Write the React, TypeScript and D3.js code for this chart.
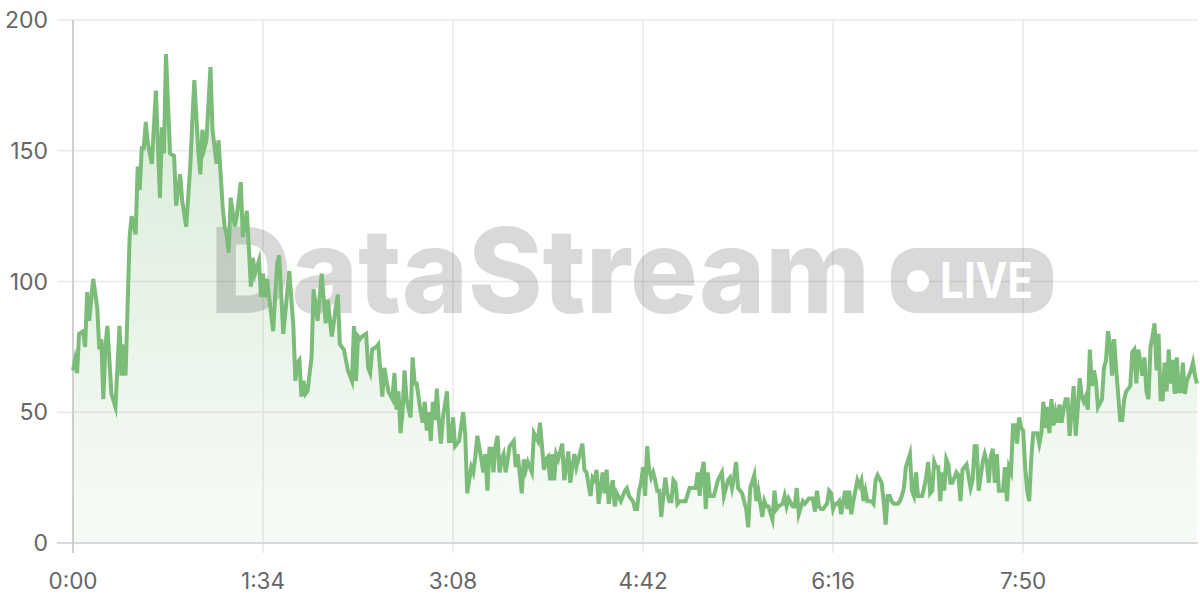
import React from 'react';
import * as d3 from 'd3';

// time in seconds and the value at that time
const seconds = [
  0,1,2,3,5,6,7,8,10,12,13,14,15,16,17,19,21,23,24,25,26,28,29,31,32,33,34,35,36,37,39,41,43,44,45,46,48,50,51,53,54,56,58,60,62,63,64,65,66,68,69,71,72,74,75,76,77,78,80,81,83,84,86,88,89,90,92,93,94,95,96,99,101,102,104,106,107,109,110,111,112,113,114,115,116,118,119,121,123,125,126,
  128,131,132,134,136,138,139,140,141,142,143,145,146,147,148,150,151,152,153,154,156,158,159,160,161,162,163,164,165,167,168,169,170,172,173,174,175,176,177,178,179,180,181,182,183,185,186,187,188,189,191,193,194,195,197,198,199,200,202,203,204,205,206,207,208,209,210,211,212,213,214,215,216,218,219,220,222,223,224,225,227,228,230,231,233,234,235,236,237,238,239,240,242,243,244,245,246,247,248,249,250,252,253,254,256,257,258,259,260,262,263,264,265,267,268,269,271,
  272,273,274,275,277,278,279,280,281,282,283,284,285,286,287,288,289,290,291,292,293,294,295,296,297,298,299,300,302,303,305,307,308,309,310,311,312,313,314,315,316,317,318,319,321,322,324,325,326,327,328,329,331,332,333,334,335,337,338,339,341,342,343,344,346,347,348,349,351,352,353,354,356,357,358,359,361,362,363,364,366,367,368,369,370,371,373,374,375,376,377,378,379,380,381,382,383,384,385,386,388,389,390,391,392,393,395,396,397,398,400,401,402,403,404,405,406,408,409,410,411,412,
  414,415,416,417,418,420,421,422,423,424,425,426,427,428,429,430,431,432,433,434,435,437,438,439,440,441,442,444,445,446,447,448,450,451,452,453,454,455,456,457,458,460,461,462,463,464,465,466,467,468,469,470,471,472,473,474,475,477,478,479,480,481,482,483,484,485,486,487,488,489,490,491,492,493,495,496,497,498,499,500,501,502,503,504,505,506,507,509,510,511,512,513,514,515,516,518,519,520,521,523,524,525,526,527,529,530,531,532,533,534,535,536,537,538,539,540,541,542,543,544,545,546,547,548,549,550,551,553,554,555,556,
];

const values = [
  66,70,65,80,81,75,96,85,101,90,74,78,55,75,83,57,52,83,64,76,64,117,125,118,144,135,151,151,161,153,145,173,132,159,149,187,149,148,129,141,131,121,144,177,150,141,158,151,154,182,158,145,154,129,121,118,111,132,121,125,138,117,127,98,109,103,108,94,103,94,101,81,107,110,80,96,104,83,62,69,70,56,62,57,58,71,97,85,103,84,93,
  79,95,76,74,66,62,83,62,79,78,79,80,67,65,74,75,76,66,56,67,58,55,65,51,58,42,50,66,55,48,71,61,61,50,46,54,43,50,39,54,47,59,46,38,48,58,39,39,48,37,39,50,42,19,29,27,33,41,32,27,34,20,36,36,27,37,41,27,32,34,27,32,37,39,29,34,19,32,28,31,27,42,39,46,28,32,33,24,34,24,34,32,38,24,29,35,23,29,34,29,32,38,28,27,18,25,24,28,15,27,19,28,15,24,14,19,16,
  18,20,21,18,16,13,13,20,23,29,18,37,28,25,27,24,20,20,10,18,25,19,16,16,24,23,15,16,16,16,21,21,21,27,18,27,31,13,27,18,18,18,21,24,27,18,24,25,21,25,31,21,19,16,13,6,21,26,16,20,10,16,14,14,9,20,13,14,15,18,14,17,14,14,21,11,16,15,16,17,17,12,20,14,13,13,15,20,19,13,15,15,16,11,16,20,13,20,11,16,24,22,24,16,20,16,16,15,24,26,23,16,7,18,18,16,15,15,16,18,21,29,
  34,20,18,27,18,18,21,25,31,19,20,31,29,29,16,27,20,32,30,23,23,27,26,16,28,29,30,21,24,37,37,20,31,34,31,23,33,36,23,34,20,20,29,16,29,27,45,45,38,48,44,43,29,20,16,32,42,42,38,42,54,44,52,42,55,45,50,46,53,46,51,55,55,41,60,41,51,63,56,54,56,51,74,60,66,62,52,55,67,70,81,76,64,78,67,47,47,55,58,60,73,74,61,74,64,71,58,55,75,79,84,66,80,55,55,69,58,74,61,70,57,71,58,58,69,57,62,66,69,64,61,
];

const yTicks = [0, 50, 100, 150, 200];
const xTicks = [0, 94, 188, 282, 376, 470];
const watermarkText = 'DataStream';
const badgeText = 'LIVE';

const LINE_COLOR = '#7bbd78';
const FONT = 'Inter, "Noto Sans", sans-serif';

const fmt = (s: number) => `${Math.floor(s / 60)}:${String(s % 60).padStart(2, '0')}`;

export default function App() {
  const x = d3.scaleLinear().domain([0, 556.5]).range([73, 1198]);
  const y = d3.scaleLinear().domain([0, 200]).range([543, 20]);
  const data = seconds.map((s, i) => ({ s, v: values[i] }));
  const line = d3.line<{ s: number; v: number }>().x(d => x(d.s)).y(d => y(d.v));
  const area = d3
    .area<{ s: number; v: number }>()
    .x(d => x(d.s))
    .y0(y(0))
    .y1(d => y(d.v));

  return (
    <svg
      width={1200}
      height={600}
      style={{ position: 'absolute', left: 0, top: 0, background: '#fff' }}
    >
      <defs>
        <linearGradient id="fillGrad" gradientUnits="userSpaceOnUse" x1="0" y1={y(190)} x2="0" y2={y(0)}>
          <stop offset="0" stopColor={LINE_COLOR} stopOpacity={0.3} />
          <stop offset="1" stopColor={LINE_COLOR} stopOpacity={0.06} />
        </linearGradient>
      </defs>

      {/* horizontal grid */}
      {yTicks.map(t => (
        <line key={'h' + t} x1={57} x2={1198} y1={y(t)} y2={y(t)} stroke="#e9e9e9" strokeWidth={1.5} />
      ))}
      {/* vertical grid */}
      {xTicks.slice(1).map(t => (
        <line key={'v' + t} x1={x(t)} x2={x(t)} y1={y(200)} y2={y(0) + 10} stroke="#e9e9e9" strokeWidth={1.5} />
      ))}

      <path d={area(data) || ''} fill="url(#fillGrad)" />

      {/* watermark */}
      <g fill="#000" fillOpacity={0.15} fontFamily={FONT} fontWeight={800}>
        <text x={210} y={313} fontSize={118} textLength={660} lengthAdjust="spacingAndGlyphs">
          {watermarkText}
        </text>
        <rect x={891} y={248} width={162} height={65} rx={25} />
      </g>
      <circle cx={918} cy={281} r={11} fill="#fff" />
      <text x={940} y={298} fontSize={50} fontWeight={700} fill="#fff" fontFamily={FONT} textLength={93} lengthAdjust="spacingAndGlyphs">
        {badgeText}
      </text>

      {/* axes */}
      <line x1={57} x2={1198} y1={y(0)} y2={y(0)} stroke="#d2d2d2" strokeWidth={1.5} />
      <line x1={x(0)} x2={x(0)} y1={y(200)} y2={y(0) + 10} stroke="#cfcfcf" strokeWidth={2} />

      <path d={line(data) || ''} fill="none" stroke={LINE_COLOR} strokeWidth={4} strokeLinejoin="miter" strokeMiterlimit={6} />

      {yTicks.map(t => (
        <text key={'yl' + t} x={48} y={y(t)} textAnchor="end" dominantBaseline="central" fontSize={23} fill="#666" fontFamily={FONT}>
          {t}
        </text>
      ))}
      {xTicks.map(t => (
        <text key={'xl' + t} x={x(t)} y={580} textAnchor="middle" dominantBaseline="central" fontSize={22.5} fill="#666" fontFamily={FONT}>
          {fmt(t)}
        </text>
      ))}
    </svg>
  );
}
